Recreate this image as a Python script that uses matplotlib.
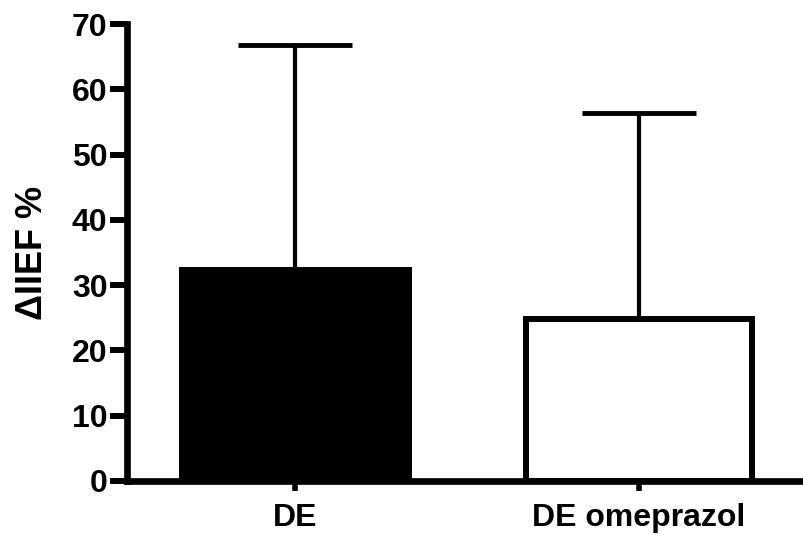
import numpy as np
import matplotlib.pyplot as plt

plt.rcParams["font.family"] = ["Liberation Sans", "DejaVu Sans"]
plt.rcParams["font.weight"] = "bold"

groups = ["DE", "DE omeprazol"]
means = [32.3, 24.8]
sd_upper = [34.5, 31.6]
colors = ["black", "white"]

fig = plt.figure(figsize=(8.04, 5.35), dpi=100)
ax = fig.add_axes([0.158, 0.101, 0.842, 0.854])

x = np.arange(len(groups))
ax.bar(x, means, width=0.66, color=colors, edgecolor="black", linewidth=4.3, zorder=2)
ax.errorbar(x, means, yerr=[np.zeros(len(means)), sd_upper], fmt="none",
            ecolor="black", elinewidth=3, capsize=41, capthick=3.5, zorder=1)

ax.set_xlim(-0.49, 1.48)
ax.set_ylim(0, 70)
ax.set_yticks(np.arange(0, 71, 10))
ax.set_xticks(x)
ax.set_xticklabels(groups)
ax.set_ylabel("ΔIIEF %", fontsize=26, fontweight="bold", labelpad=16)

for side in ["top", "right"]:
    ax.spines[side].set_visible(False)
for side in ["left", "bottom"]:
    ax.spines[side].set_linewidth(4.8)
ax.tick_params(axis="y", length=12, width=4.3, labelsize=23, pad=2)
ax.tick_params(axis="x", length=7, width=4, labelsize=23, pad=9)
for lab in ax.get_xticklabels() + ax.get_yticklabels():
    lab.set_fontweight("bold")

fig.savefig("out.png", dpi=100)
